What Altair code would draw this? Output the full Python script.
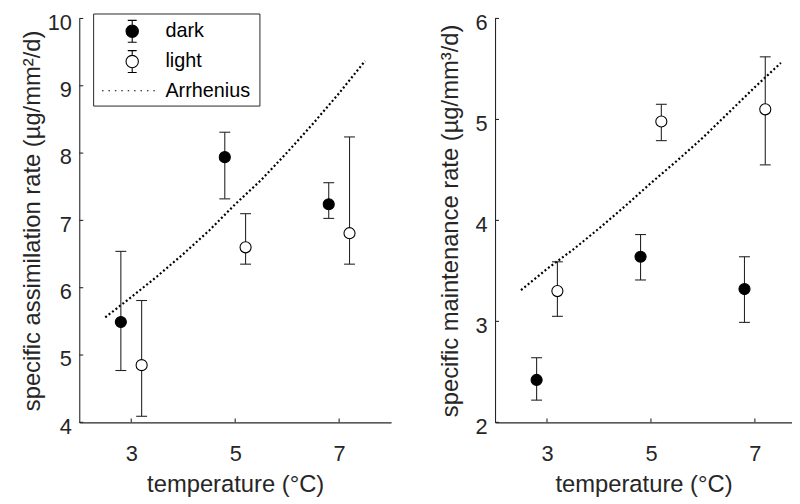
import altair as alt
import pandas as pd

# ---------------- data ----------------
temp_dark = [2.8, 4.8, 6.8]
temp_light = [3.2, 5.2, 7.2]

assim_dark = [5.49, 7.94, 7.24]
assim_dark_lo = [4.77, 7.32, 7.03]
assim_dark_hi = [6.54, 8.31, 7.56]
assim_light = [4.85, 6.60, 6.81]
assim_light_lo = [4.09, 6.35, 6.35]
assim_light_hi = [5.81, 7.10, 8.24]

maint_dark = [2.42, 3.64, 3.32]
maint_dark_lo = [2.22, 3.41, 2.99]
maint_dark_hi = [2.64, 3.86, 3.64]
maint_light = [3.30, 4.98, 5.10]
maint_light_lo = [3.05, 4.79, 4.55]
maint_light_hi = [3.59, 5.15, 5.62]

arr_temp = [2.5, 3.0, 3.5, 4.0, 4.5, 5.0, 5.5, 6.0, 6.5, 7.0, 7.5]
arr_assim = [5.56, 5.86, 6.17, 6.50, 6.85, 7.24, 7.60, 8.01, 8.44, 8.89, 9.37]
arr_maint = [3.31, 3.52, 3.71, 3.92, 4.14, 4.37, 4.59, 4.82, 5.07, 5.32, 5.56]

x_ticks = [3, 5, 7]
assim_ticks = [4, 5, 6, 7, 8, 9, 10]
maint_ticks = [2, 3, 4, 5, 6]

series_names = ["dark", "light", "Arrhenius"]

# ---------------- style ----------------
FONT = "Liberation Sans"
INK = "#262626"
LW = 1.1
H = 408
W_LEFT = 315
W_RIGHT = 300
GAP = 105


def circle_path(cx, r):
    return f"M{cx + r},0 A{r},{r} 0 1,1 {cx - r},0 A{r},{r} 0 1,1 {cx + r},0 Z"


def marker_path(cx=1.79, r=0.52, h=0.92, c=0.375):
    return (circle_path(cx, r)
            + f" M{cx},{-h} L{cx},{-r} M{cx},{r} L{cx},{h}"
            + f" M{cx - c},{-h} L{cx + c},{-h} M{cx - c},{h} L{cx + c},{h}")


def dotted_path(x0=-0.75, x1=3.83, step=0.54, dot=0.125, extent=11.88):
    parts = []
    x = x0
    while x + dot <= x1 + 1e-9:
        parts.append(f"M{x:.3f},0 L{x + dot:.3f},0")
        x += step
    # zero-length segment: draws nothing, widens the legend box to the right
    parts.append(f"M{extent},0 L{extent},0")
    return " ".join(parts)


def make_legend():
    return alt.Legend(
        title=None, orient="none", legendX=14, legendY=-5,
        labelFont=FONT, labelFontSize=20, labelColor="black",
        symbolSize=576, symbolStrokeColor="black", symbolStrokeWidth=LW,
        strokeColor=INK, fillColor="white", padding=5, rowPadding=2.5,
        labelOffset=42)


def panel(xdomain, width, ydomain, yticks, ytitle, ytitle_pad,
          yd, yd_lo, yd_hi, yl, yl_lo, yl_hi, arr_y, legend=False):
    xs = alt.Scale(domain=xdomain, nice=False, zero=False)
    ys = alt.Scale(domain=ydomain, nice=False, zero=False)
    xaxis = alt.Axis(values=x_ticks, title="temperature (°C)", grid=False,
                     ticks=False, tickSize=0, domainColor=INK, domainWidth=LW,
                     labelFont=FONT, labelFontSize=22, labelColor=INK,
                     labelPadding=22, titleFont=FONT, titleFontSize=24,
                     titleFontWeight="normal", titleColor=INK, titlePadding=8)
    yaxis = alt.Axis(values=yticks, title=ytitle, grid=False,
                     ticks=False, tickSize=0, domainColor=INK, domainWidth=LW,
                     labelFont=FONT, labelFontSize=22, labelColor=INK,
                     labelPadding=8, labelOffset=4, titleFont=FONT, titleFontSize=24,
                     titleFontWeight="normal", titleColor=INK, titlePadding=ytitle_pad)

    def X(f):
        return alt.X(f, type="quantitative", scale=xs, axis=xaxis)

    def Y(f):
        return alt.Y(f, type="quantitative", scale=ys, axis=yaxis)

    pts = pd.DataFrame({
        "t": temp_dark + temp_light,
        "v": yd + yl,
        "lo": yd_lo + yl_lo,
        "hi": yd_hi + yl_hi,
        "s": ["dark"] * 3 + ["light"] * 3,
    })
    curve = pd.DataFrame({"t": arr_temp, "v": arr_y})

    line = alt.Chart(curve).mark_line(color="black", strokeWidth=2.2,
                                      strokeDash=[2, 2.4]).encode(x=X("t"), y=Y("v"))
    bars = alt.Chart(pts).mark_rule(color=INK, strokeWidth=LW).encode(
        x=X("t"), y=Y("lo"), y2="hi")
    cap_lo = alt.Chart(pts).mark_tick(orient="horizontal", color=INK, size=11,
                                      thickness=LW, opacity=1).encode(x=X("t"), y=Y("lo"))
    cap_hi = alt.Chart(pts).mark_tick(orient="horizontal", color=INK, size=11,
                                      thickness=LW, opacity=1).encode(x=X("t"), y=Y("hi"))
    dark = alt.Chart(pts).transform_filter(alt.datum.s == "dark").mark_point(
        shape="circle", size=125, filled=True, fill="black", stroke="black",
        strokeWidth=LW, opacity=1).encode(x=X("t"), y=Y("v"))
    light = alt.Chart(pts).transform_filter(alt.datum.s == "light").mark_point(
        shape="circle", size=125, filled=True, fill="white", stroke="black",
        strokeWidth=LW, opacity=1).encode(x=X("t"), y=Y("v"))

    xt = alt.Chart(pd.DataFrame({"t": x_ticks})).mark_rule(
        color=INK, strokeWidth=LW).encode(x=X("t"), y=alt.value(H), y2=alt.value(H - 4))
    yt = alt.Chart(pd.DataFrame({"v": yticks})).mark_rule(
        color=INK, strokeWidth=LW).encode(y=Y("v"), x=alt.value(0), x2=alt.value(4))

    layers = [line, bars, cap_lo, cap_hi, dark, light, xt, yt]

    if legend:
        leg = alt.Chart(pd.DataFrame({"s": series_names})).transform_filter(
            "false").mark_point(color="black", stroke="black", strokeWidth=LW,
                                opacity=1).encode(
            shape=alt.Shape("s:N", scale=alt.Scale(
                domain=series_names,
                range=[marker_path(), marker_path(), dotted_path()]),
                legend=make_legend()),
            fill=alt.Fill("s:N", scale=alt.Scale(
                domain=series_names, range=["black", "white", "transparent"]),
                legend=make_legend()),
            stroke=alt.Stroke("s:N", scale=alt.Scale(
                domain=series_names, range=["black", "black", "black"]),
                legend=make_legend()),
        )
        layers.append(leg)

    return alt.layer(*layers).properties(width=width, height=H)


left = panel([2, 8], W_LEFT, [4, 10], assim_ticks,
             "specific assimilation rate (µg/mm²/d)", 3,
             assim_dark, assim_dark_lo, assim_dark_hi,
             assim_light, assim_light_lo, assim_light_hi, arr_assim, legend=True)
right = panel([2, 2 + W_RIGHT / 52.5], W_RIGHT, [2, 6], maint_ticks,
              "specific maintenance rate (µg/mm³/d)", 13,
              maint_dark, maint_dark_lo, maint_dark_hi,
              maint_light, maint_light_lo, maint_light_hi, arr_maint)

# fixed page geometry: svg of 792 x 488 px, first plot's top-left at (72, 6) in it
chart = alt.hconcat(left, right, spacing=GAP, bounds="flush").properties(
    autosize=alt.AutoSizeParams(type="none"),
    padding={"left": 72, "top": 6, "right": 720, "bottom": 482},
).configure_view(stroke=None)

chart.save("out.html", embed_options={"renderer": "svg", "actions": False})
